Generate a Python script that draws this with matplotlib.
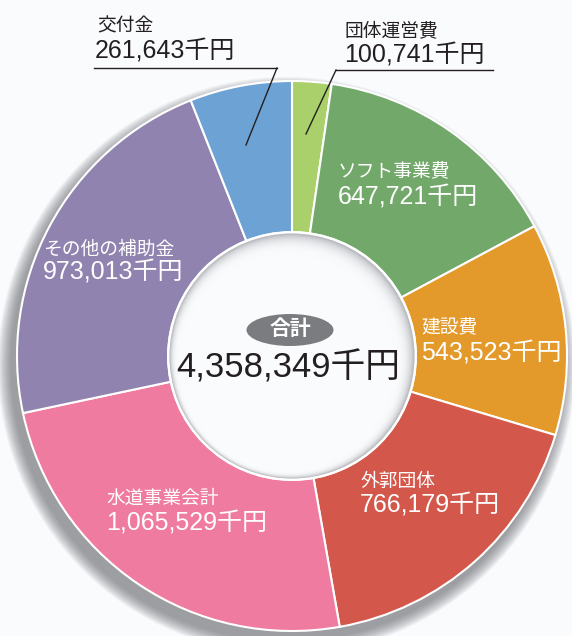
import matplotlib
matplotlib.use("Agg")
import matplotlib.pyplot as plt
from matplotlib.patches import Circle, Ellipse
from matplotlib.lines import Line2D
import numpy as np

plt.rcParams['font.family'] = ['Liberation Sans', 'Noto Sans CJK JP', 'DejaVu Sans']

categories = ["団体運営費", "ソフト事業費", "建設費", "外郭団体", "水道事業会計", "その他の補助金", "交付金"]
values = [100741, 647721, 543523, 766179, 1065529, 973013, 261643]
colors = ["#a9d06a", "#73a86b", "#e39a2b", "#d3584b", "#f07ba0", "#9183b0", "#6da2d4"]
total_label = "合計"
unit = "千円"

W, H = 572, 636
fig = plt.figure(figsize=(W / 100, H / 100), dpi=100)
fig.patch.set_facecolor("#fafbfd")

cx, cy, R = 292, 356, 275
ax = fig.add_axes([(cx - R) / W, (H - cy - R) / H, 2 * R / W, 2 * R / H])

rin = 0.45
# drop shadow
for i in range(16):
    r = 1.0 + 0.05 * (1 - i / 16)
    ax.add_patch(Circle((-0.02, -0.035), r, color="#5e6065", alpha=0.05, lw=0, zorder=0, clip_on=False))

ax.pie(values, colors=colors, startangle=90, counterclock=False, radius=1,
       wedgeprops=dict(width=1 - rin, edgecolor="white", linewidth=1.5))
ax.set_xlim(-1, 1)
ax.set_ylim(-1, 1)
ax.set_aspect("equal")
ax.axis("off")

# hole with inner shadow
ax.add_patch(Circle((0, 0), rin, color="#a9abb0", lw=0, zorder=3))
n = 16
for i in range(n):
    t = i / (n - 1)
    r = rin - 0.005 - 0.05 * t
    ax.add_patch(Circle((-0.018 * t, -0.025 * t), r, color="#fafbfd", alpha=0.22 + 0.78 * t ** 3, lw=0, zorder=3))
ax.add_patch(Circle((0, 0), rin, fill=False, ec="white", lw=1.8, zorder=4))

def F(px, py):
    return px / W, 1 - py / H

def ftext(px, py, s, size, color, ha="left", weight="normal"):
    x, y = F(px, py)
    fig.text(x, y, s, fontsize=size, color=color, ha=ha, va="center", fontweight=weight)

def fmt(v):
    return f"{v:,}{unit}"

dark = "#231f20"
# outside labels with leader lines
ftext(97, 27, categories[6], 13.5, dark)
ftext(95, 51, fmt(values[6]), 18, dark)
fig.add_artist(Line2D([94 / W, 277 / W], [1 - 68 / H, 1 - 68 / H], color=dark, lw=1))
fig.add_artist(Line2D([277 / W, 246 / W], [1 - 68 / H, 1 - 145 / H], color=dark, lw=1))

ftext(345, 31, categories[0], 13.5, dark)
ftext(344, 55, fmt(values[0]), 18, dark)
fig.add_artist(Line2D([336 / W, 493 / W], [1 - 70 / H, 1 - 70 / H], color=dark, lw=1))
fig.add_artist(Line2D([336 / W, 306 / W], [1 - 70 / H, 1 - 134 / H], color=dark, lw=1))

# inside labels
inside = {1: (338, 172, 197), 2: (421, 328, 353), 3: (360, 482, 505),
          4: (106, 499, 523), 5: (43, 250, 272)}
for i, (px, py1, py2) in inside.items():
    ftext(px, py1, categories[i], 13.5, "white")
    ftext(px, py2, fmt(values[i]), 18, "white")

# center total
ex, ey = F(290, 330)
fig.add_artist(Ellipse((ex, ey), 87 / W, 32 / H, transform=fig.transFigure, color="#7b7c80", lw=0))
ftext(290, 329, total_label, 15, "white", ha="center", weight="bold")
ftext(288, 368, fmt(sum(values)), 25, dark, ha="center")

fig.savefig("out.png", dpi=100, facecolor=fig.get_facecolor())
